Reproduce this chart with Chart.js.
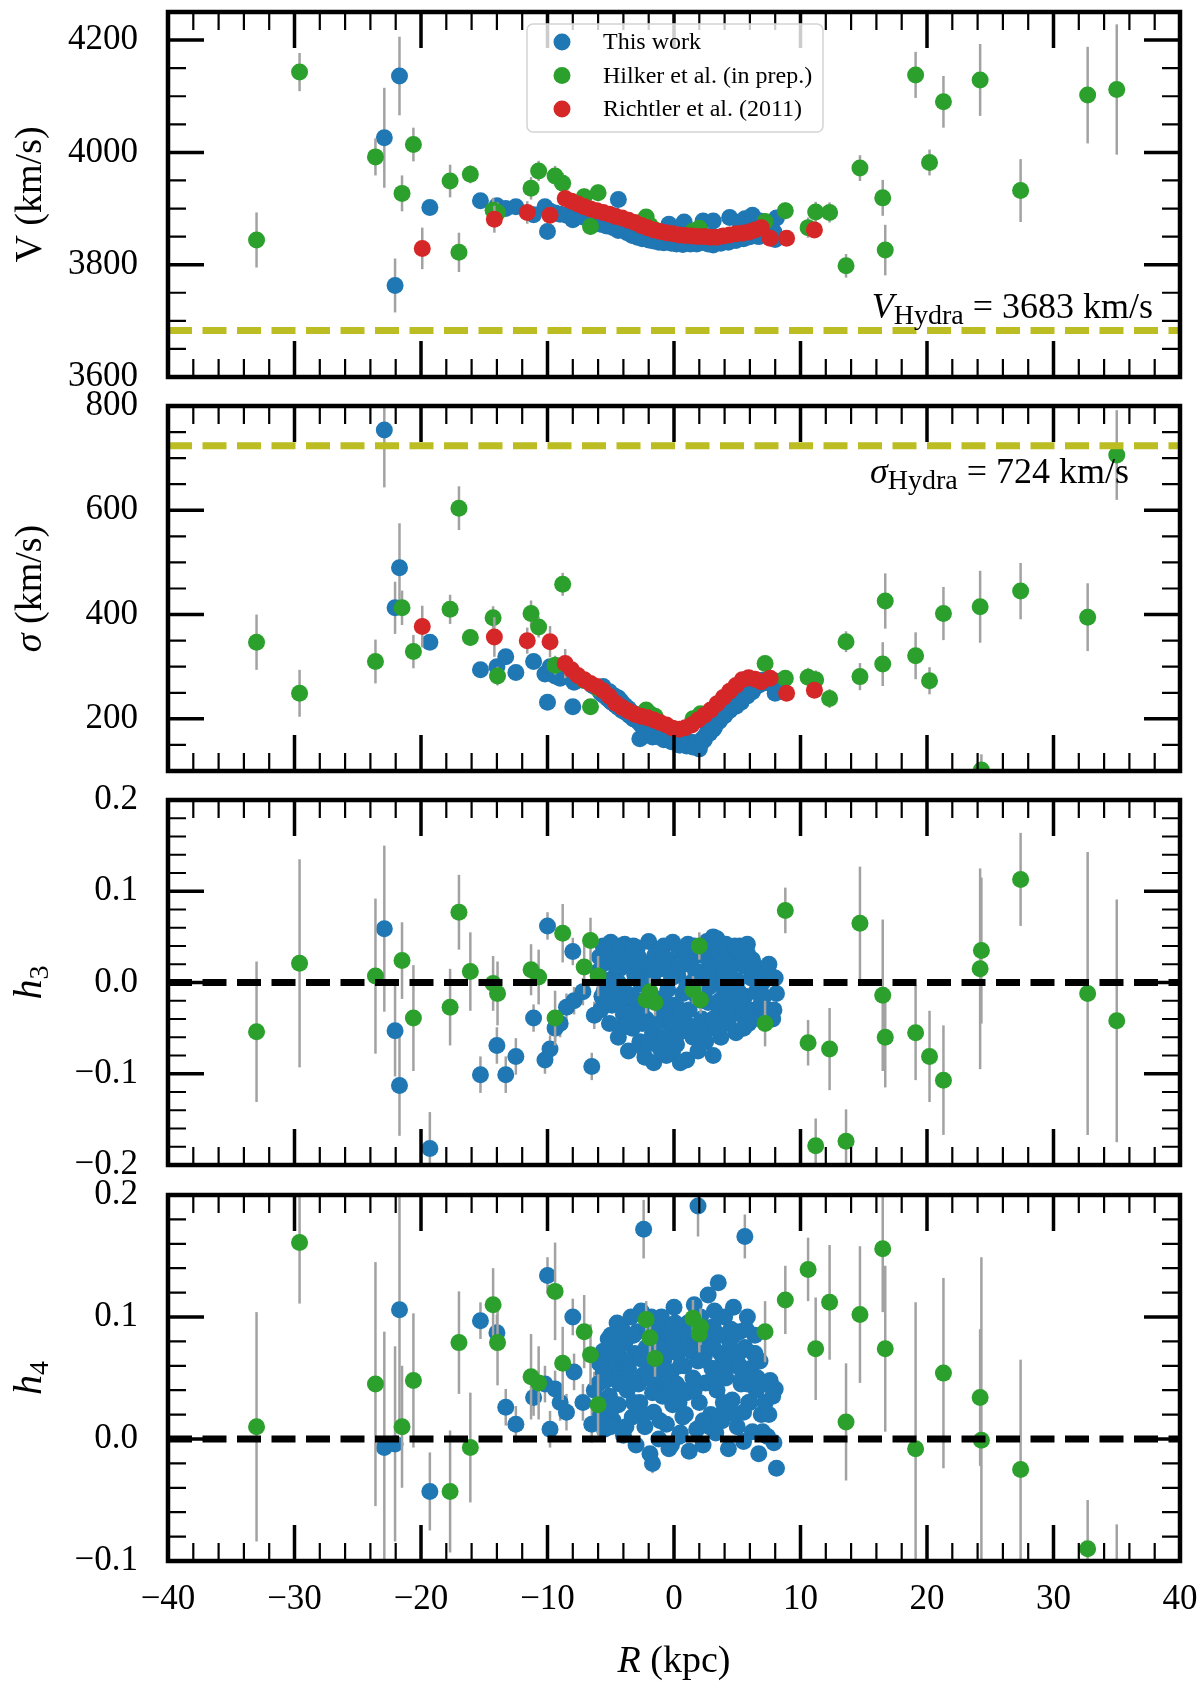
<!DOCTYPE html>
<html>
<head>
<meta charset="utf-8">
<title>Hydra I: V, sigma, h3, h4 versus R</title>
<script src="https://cdn.jsdelivr.net/npm/chart.js@4.4.1/dist/chart.umd.min.js"></script>
<style>
  html, body { margin: 0; padding: 0; background: #fff; }
  #figure { position: relative; width: 1200px; height: 1693px; overflow: hidden; }
  #figure canvas { position: absolute; left: 0; }
</style>
</head>
<body>
<div id="figure">
  <canvas id="panel-v" width="1200" height="395" style="top:0px;width:1200px;height:395px"></canvas>
  <canvas id="panel-sigma" width="1200" height="405" style="top:386px;width:1200px;height:405px"></canvas>
  <canvas id="panel-h3" width="1200" height="405" style="top:780px;width:1200px;height:405px"></canvas>
  <canvas id="panel-h4" width="1200" height="518" style="top:1175px;width:1200px;height:518px"></canvas>
</div>
<script>
// ---- axes ----
const xMin = -40, xMax = 40;
const xTicks = [-40, -30, -20, -10, 0, 10, 20, 30, 40];
const vTicks = [3600, 3800, 4000, 4200];
const sigmaTicks = [200, 400, 600, 800];
const h3Ticks = [-0.2, -0.1, 0.0, 0.1, 0.2];
const h4Ticks = [-0.1, 0.0, 0.1, 0.2];

const vHydra = 3683;
const sigmaHydra = 724;

// ---- This work (outer bins, then two passes over the dense central bins) ----
const thisWorkR = [
  -22.9, -21.7, -22.05, -19.3, -15.3, -14.0, -13.3, -12.5, -11.1, -10.2,
  -10.0, -9.8, -9.4, -9.0, -8.5, -8.0, -7.9, -7.2, -6.5, -6.3,
  -4.4, -2.4, 1.9, 5.6, -1.7,
  -6.0, -5.8, -5.6, -5.5, -5.3, -5.1, -5.0, -4.8, -4.7, -4.5,
  -4.4, -4.2, -4.0, -3.9, -3.7, -3.6, -3.4, -3.3, -3.1, -3.0,
  -2.9, -2.7, -2.6, -2.5, -2.3, -2.2, -2.0, -1.9, -1.7, -1.6,
  -1.5, -1.3, -1.2, -1.0, -0.9, -0.8, -0.6, -0.5, -0.4, -0.2,
  -0.1, 0.0, 0.2, 0.3, 0.4, 0.6, 0.7, 0.8, 1.0, 1.1,
  1.2, 1.4, 1.5, 1.6, 1.8, 1.9, 2.0, 2.2, 2.3, 2.5,
  2.6, 2.7, 2.9, 3.0, 3.1, 3.3, 3.4, 3.5, 3.7, 3.8,
  4.0, 4.1, 4.3, 4.4, 4.6, 4.7, 4.9, 5.0, 5.2, 5.3,
  5.5, 5.6, 5.8, 5.9, 6.1, 6.2, 6.4, 6.5, 6.7, 6.8,
  7.0, 7.2, 7.4, 7.6, 7.9, 8.0, 8.1, 3.1,
  -5.9, -5.7, -5.4, -5.2, -4.9, -4.6, -4.3, -4.1, -3.8, -3.5,
  -3.2, -2.8, -2.4, -2.1, -1.8, -1.4, -1.1, -0.7, -0.3, 0.1,
  0.5, 0.9, 1.3, 1.7, 2.1, 2.4, 2.8, 3.2, 3.6, 3.9,
  4.2, 4.5, 4.8, 5.1, 5.4, 5.7, 6.0, 6.3, 6.6, 6.9,
  -5.6, -5.0, -4.4, -3.8, -3.2, -2.6, -2.0, -1.4, -0.8, -0.2,
  0.4, 1.0, 1.6, 2.2, 2.8, 3.4, 4.0, 4.6, 5.2, 5.8,
  -4.9, -4.1, -3.3, -2.5, -1.7, -0.9, -0.1, 0.7, 1.5, 2.3,
  3.1, 3.9, 4.7, 5.5, 6.4, 7.1, 7.5, 7.8, -1.0, 0.5
];
const thisWorkV = [
  4026, 4136, 3763, 3902, 3914, 3905, 3900, 3903, 3889, 3903,
  3859, 3895, 3892, 3890, 3888, 3880, 3884, 3885, 3880, 3878,
  3916, 3862, 3850, 3870, 3843,
  3884, 3872, 3890, 3878, 3869, 3881, 3875, 3866, 3887, 3872,
  3861, 3879, 3868, 3874, 3857, 3870, 3862, 3852, 3866, 3858,
  3849, 3863, 3855, 3846, 3860, 3851, 3844, 3857, 3848, 3842,
  3855, 3846, 3840, 3853, 3845, 3839, 3851, 3843, 3872, 3838,
  3850, 3842, 3837, 3849, 3841, 3846, 3836, 3876, 3840, 3845,
  3838, 3847, 3839, 3844, 3837, 3846, 3840, 3845, 3878, 3848,
  3841, 3837, 3846, 3839, 3835, 3848, 3840, 3844, 3838, 3850,
  3842, 3846, 3840, 3884, 3844, 3849, 3843, 3855, 3876, 3852,
  3846, 3882, 3849, 3855, 3851, 3888, 3853, 3858, 3850, 3878,
  3855, 3860, 3852, 3866, 3858, 3845, 3883, 3878,
  3876, 3886, 3870, 3880, 3868, 3877, 3865, 3872, 3860, 3868,
  3855, 3862, 3850, 3856, 3845, 3852, 3842, 3848, 3840, 3846,
  3838, 3844, 3837, 3843, 3839, 3845, 3838, 3846, 3840, 3848,
  3842, 3850, 3845, 3852, 3848, 3856, 3850, 3858, 3853, 3862,
  3880, 3872, 3866, 3861, 3854, 3849, 3845, 3842, 3840, 3839,
  3845, 3842, 3848, 3844, 3850, 3843, 3848, 3851, 3855, 3860,
  3874, 3868, 3859, 3852, 3850, 3843, 3847, 3841, 3843, 3847,
  3843, 3850, 3847, 3852, 3856, 3857, 3856, 3860, 3848, 3845
];
const thisWorkVErr = [
  89, 70, 48, 12, 10, 10, 10, 10, 10, 10,
  10, 8, 8, 8, 8, 8, 8, 8, 8, 8,
  8, 0, 0, 0, 0
];
const thisWorkSigma = [
  754, 490, 413, 347, 294, 300, 319, 289, 310, 286,
  232, 300, 282, 278, 282, 223, 270, 274, 265, 262,
  240, 205, 150, 248, 180,
  258, 250, 262, 245, 240, 252, 236, 230, 244, 228,
  222, 234, 218, 226, 214, 220, 208, 212, 204, 198,
  206, 162, 190, 200, 168, 194, 182, 188, 165, 184,
  175, 180, 172, 176, 168, 174, 166, 170, 162, 167,
  160, 164, 158, 162, 156, 160, 154, 158, 152, 156,
  150, 155, 148, 153, 145, 150, 142, 156, 162, 168,
  172, 176, 182, 186, 180, 192, 196, 200, 204, 210,
  206, 214, 220, 216, 226, 230, 224, 236, 240, 232,
  246, 250, 244, 256, 260, 252, 266, 262, 270, 266,
  274, 270, 276, 268, 262, 249, 272, 194,
  255, 248, 244, 238, 232, 226, 222, 216, 212, 206,
  200, 194, 186, 182, 176, 172, 168, 162, 158, 155,
  152, 150, 148, 148, 152, 160, 172, 184, 196, 206,
  214, 222, 230, 238, 244, 250, 256, 262, 268, 272,
  246, 234, 224, 212, 200, 188, 176, 166, 160, 156,
  150, 148, 150, 160, 175, 192, 208, 224, 240, 252,
  236, 220, 204, 192, 178, 168, 158, 152, 146, 158,
  188, 206, 226, 246, 262, 270, 272, 266, 168, 150
];
const thisWorkSigmaErr = [
  110, 85, 50, 12, 10, 10, 10, 10, 10, 10,
  10, 8, 8, 8, 8, 8, 8, 8, 8, 8,
  8, 0, 0, 0, 0
];
const thisWorkH3 = [
  0.059, -0.113, -0.053, -0.182, -0.101, -0.069, -0.101, -0.081, -0.039, -0.085,
  0.062, -0.073, -0.050, -0.045, -0.027, 0.034, -0.020, -0.010, -0.092, -0.036,
  0.030, -0.020, 0.010, 0.020, -0.060,
  0.012, -0.030, 0.040, -0.008, 0.022, -0.045, 0.044, 0.005, -0.020, 0.030,
  -0.060, 0.016, -0.035, 0.042, -0.012, -0.075, 0.025, -0.050, 0.008, -0.028,
  0.038, -0.065, -0.002, 0.020, -0.082, -0.040, 0.045, 0.010, -0.055, -0.088,
  0.030, -0.018, -0.070, 0.015, -0.032, 0.040, -0.080, -0.008, 0.025, -0.050,
  0.044, -0.025, -0.068, 0.008, 0.035, -0.045, -0.012, 0.020, -0.085, 0.042,
  -0.030, 0.000, -0.060, 0.028, -0.015, -0.075, 0.038, -0.040, 0.012, -0.065,
  0.045, -0.022, -0.050, 0.020, -0.080, 0.000, 0.048, -0.035, -0.060, 0.030,
  -0.010, 0.042, -0.045, 0.010, -0.025, 0.035, -0.055, 0.002, 0.040, -0.035,
  0.018, -0.015, 0.032, -0.045, 0.005, 0.025, -0.030, -0.010, 0.015, -0.040,
  0.000, -0.028, -0.035, 0.008, -0.030, 0.005, -0.012, 0.050,
  0.028, -0.015, 0.002, 0.036, -0.025, 0.018, 0.040, -0.048, 0.022, 0.034,
  -0.040, 0.028, -0.072, 0.000, 0.022, -0.045, 0.035, -0.060, -0.040, 0.015,
  -0.030, 0.028, -0.048, 0.012, -0.055, 0.030, -0.005, 0.038, -0.020, 0.040,
  -0.035, 0.020, 0.040, -0.010, 0.030, -0.028, -0.040, 0.020, 0.000, -0.022,
  -0.018, 0.025, 0.000, -0.048, 0.040, -0.030, -0.065, 0.030, -0.018, 0.005,
  -0.055, -0.005, 0.040, -0.020, 0.010, -0.050, 0.025, 0.000, -0.020, 0.042,
  -0.010, -0.020, -0.015, -0.045, 0.005, 0.022, -0.075, -0.035, 0.000, 0.030,
  -0.040, 0.010, -0.010, -0.050, 0.010, -0.015, 0.020, -0.040, -0.075, -0.088
];
const thisWorkH3Err = [
  0.091, 0.055, 0.050, 0.040, 0.020, 0.020, 0.020, 0.020, 0.015, 0.015,
  0.015, 0.015, 0.015, 0.015, 0.015, 0.015, 0.015, 0.015, 0.015, 0.015,
  0.015, 0, 0, 0, 0
];
const thisWorkH4 = [
  -0.007, 0.106, -0.004, -0.043, 0.097, 0.087, 0.026, 0.012, 0.034, 0.045,
  0.134, 0.008, 0.041, 0.030, 0.022, 0.100, 0.055, 0.030, 0.012, 0.040,
  0.060, 0.172, 0.191, 0.166, -0.020,
  0.045, 0.020, 0.072, 0.008, 0.060, 0.035, 0.085, 0.015, 0.050, 0.095,
  0.028, 0.066, 0.003, 0.078, 0.040, 0.058, 0.100, 0.018, 0.070, -0.005,
  0.088, 0.030, 0.105, 0.052, 0.010, 0.075, 0.095, -0.012, 0.060, 0.022,
  0.042, 0.080, 0.000, 0.100, 0.035, 0.065, 0.012, 0.090, -0.008, 0.055,
  0.028, 0.108, 0.045, 0.070, 0.002, 0.085, 0.018, 0.060, 0.038, 0.095,
  -0.010, 0.072, 0.050, 0.110, 0.008, 0.064, 0.030, 0.088, -0.005, 0.046,
  0.078, 0.118, 0.020, 0.058, 0.092, 0.005, 0.040, 0.128, 0.070, 0.015,
  0.100, 0.050, -0.008, 0.080, 0.032, 0.108, 0.060, 0.010, 0.088, 0.045,
  -0.002, 0.075, 0.100, 0.030, 0.058, 0.006, 0.085, 0.040, -0.012, 0.064,
  0.006, 0.030, 0.002, 0.048, -0.003, 0.041, -0.024, 0.075,
  0.062, 0.030, 0.048, 0.082, 0.025, 0.070, 0.045, 0.090, 0.010, 0.064,
  0.085, 0.045, 0.020, 0.070, 0.100, 0.050, 0.015, 0.078, 0.040, 0.095,
  0.060, 0.020, 0.080, 0.045, 0.100, 0.068, 0.010, 0.105, 0.085, 0.030,
  0.060, 0.090, 0.020, 0.070, 0.050, 0.090, 0.030, 0.070, 0.050, 0.020,
  0.055, 0.010, 0.080, 0.050, 0.030, 0.068, 0.050, 0.092, 0.075, -0.005,
  0.030, 0.080, 0.040, 0.065, 0.090, 0.055, 0.025, 0.070, 0.060, 0.045,
  0.070, 0.045, 0.085, 0.065, 0.038, 0.050, 0.080, 0.040, 0.088, 0.015,
  0.050, 0.065, 0.085, 0.022, 0.070, 0.045, 0.020, 0.035, 0.060, 0.005
];
const thisWorkH4Err = [
  0.095, 0.095, 0.080, 0.032, 0.015, 0.015, 0.015, 0.015, 0.015, 0.015,
  0.015, 0.015, 0.015, 0.015, 0.015, 0.015, 0.015, 0.015, 0.015, 0.015,
  0.015, 0.024, 0.025, 0.018, 0.008
];

// ---- Hilker et al. (in prep.) ----
const hilkerR = [
  -33.0, -29.6, -23.6, -21.5, -20.6, -17.7, -17.0, -16.1, -14.3, -13.95,
  -11.3, -10.7, -9.4, -8.8, -7.1, -6.6, -6.0, -2.2, -1.9, -1.5,
  1.5, 2.0, 2.1, 7.2, 8.8, 10.6, 11.2, 12.3, 13.6, 14.7,
  16.5, 16.7, 19.1, 20.2, 21.3, 24.2, 24.3, 27.4, 32.7, 35.0
];
const hilkerV = [
  3844, 4143, 3992, 3927, 4014, 3949, 3822, 3961, 3897, 3893,
  3936, 3967, 3958, 3945, 3921, 3868, 3928, 3885, 3870, 3862,
  3860, 3865, 3858, 3877, 3896, 3866, 3894, 3893, 3798, 3972,
  3919, 3826, 4138, 3982, 4090, 4129, null, 3932, 4102, 4112
];
const hilkerVErr = [
  49, 34, 33, 32, 30, 29, 35, 16, 22, 18,
  20, 18, 18, 18, 15, 15, 15, 10, 10, 10,
  10, 10, 10, 15, 15, 18, 18, 18, 21, 23,
  32, 45, 41, 23, 46, 64, 0, 56, 86, 116
];
const hilkerSigma = [
  347, 249, 310, 413, 329, 410, 604, 356, 394, 282,
  402, 376, 303, 458, 274, 223, 258, 217, 210, 205,
  200, 205, 210, 306, 278, 280, 275, 239, 348, 281,
  305, 426, 321, 273, 402, 415, 102, 445, 395, 706
];
const hilkerSigmaErr = [
  53, 45, 42, 33, 32, 28, 42, 16, 22, 18,
  25, 20, 18, 22, 15, 12, 12, 10, 10, 10,
  10, 10, 10, 15, 15, 18, 18, 18, 20, 26,
  42, 53, 45, 26, 51, 69, 30, 54, 65, 86
];
const hilkerH3 = [
  -0.054, 0.021, 0.007, 0.024, -0.039, -0.027, 0.077, 0.012, -0.001, -0.012,
  0.014, 0.006, -0.039, 0.054, 0.017, 0.046, 0.007, -0.019, -0.010, -0.022,
  -0.008, 0.040, -0.019, -0.045, 0.079, -0.066, -0.179, -0.073, -0.174, 0.065,
  -0.014, -0.060, -0.055, -0.081, -0.107, 0.015, 0.035, 0.113, -0.012, -0.042
];
const hilkerH3Err = [
  0.077, 0.114, 0.085, 0.042, 0.058, 0.042, 0.041, 0.043, 0.030, 0.035,
  0.028, 0.030, 0.030, 0.032, 0.030, 0.025, 0.022, 0.015, 0.015, 0.015,
  0.015, 0.015, 0.015, 0.025, 0.025, 0.025, 0.030, 0.045, 0.035, 0.062,
  0.083, 0.055, 0.052, 0.050, 0.060, 0.110, 0.080, 0.051, 0.155, 0.133
];
const hilkerH4 = [
  0.010, 0.161, 0.045, 0.010, 0.048, -0.043, 0.079, -0.007, 0.110, 0.079,
  0.051, 0.046, 0.121, 0.062, 0.088, 0.069, 0.028, 0.098, 0.083, 0.066,
  0.099, 0.086, 0.092, 0.088, 0.114, 0.139, 0.074, 0.112, 0.014, 0.102,
  0.156, 0.074, -0.008, null, 0.054, 0.034, -0.001, -0.025, -0.090, -0.130
];
const hilkerH4Err = [
  0.094, 0.050, 0.100, 0.050, 0.055, 0.050, 0.042, 0.045, 0.030, 0.035,
  0.035, 0.030, 0.040, 0.030, 0.030, 0.025, 0.025, 0.015, 0.015, 0.015,
  0.015, 0.015, 0.015, 0.025, 0.028, 0.026, 0.042, 0.047, 0.048, 0.056,
  0.052, 0.068, 0.120, 0, 0.078, 0.056, 0.150, 0.090, 0.040, 0.060
];

// ---- Richtler et al. (2011) ----
const richtlerR = [
  -19.9, -14.2, -11.6, -9.8, -8.6, -8.1, -7.6, -7.1, -6.6, -6.1,
  -5.6, -5.1, -4.6, -4.1, -3.6, -3.1, -2.6, -2.1, -1.6, -1.1,
  -0.6, -0.1, 0.4, 0.9, 1.4, 1.9, 2.4, 2.9, 3.4, 3.9,
  4.4, 4.9, 5.4, 5.9, 6.4, 6.9, 7.6, 8.9, 11.1
];
const richtlerV = [
  3829, 3881, 3893, 3888, 3918, 3913, 3908, 3903, 3899, 3896,
  3893, 3890, 3886, 3883, 3879, 3875, 3870, 3866, 3862, 3859,
  3857, 3855, 3853, 3852, 3851, 3850, 3850, 3849, 3849, 3851,
  3853, 3855, 3856, 3858, 3862, 3866, 3847, 3847, 3862
];
const richtlerVErr = [
  37, 24, 20, 15, 0, 0, 0, 0, 0, 0,
  0, 0, 0, 0, 0, 0, 0, 0, 0, 0,
  0, 0, 0, 0, 0, 0, 0, 0, 0, 0,
  0, 0, 0, 0, 0, 0, 0, 10, 12
];
const richtlerSigma = [
  377, 357, 350, 348, 306, 294, 283, 275, 268, 262,
  254, 243, 230, 222, 215, 209, 205, 202, 198, 193,
  188, 182, 180, 183, 188, 198, 207, 217, 229, 241,
  253, 264, 275, 279, 276, 271, 278, 249, 255
];
const richtlerSigmaErr = [
  40, 38, 25, 30, 28, 0, 0, 0, 0, 0,
  0, 0, 0, 0, 0, 0, 0, 0, 0, 0,
  0, 0, 0, 0, 0, 0, 0, 0, 0, 0,
  0, 0, 0, 0, 0, 0, 0, 15, 15
];

// ---- styling ----
const SERIF = '"Liberation Serif", "Times New Roman", serif';
const BLUE = '#1f77b4';
const GREEN = '#2ca02c';
const RED = '#d62728';
const OLIVE = '#bcbd22';

function font(size, italic) {
  return (italic ? 'italic ' : '') + size + 'px ' + SERIF;
}

function signed(text) {
  return String(text).replace('-', '\u2212');
}

// draws a run of text pieces (different fonts / subscripts) on one baseline
function drawRich(ctx, parts, x, y, align) {

  let width = 0;
  parts.forEach(p => { ctx.font = p.font; width += ctx.measureText(p.t).width; });
  let cx = align === 'right' ? x - width : align === 'center' ? x - width / 2 : x;
  parts.forEach(p => {
    ctx.font = p.font;
    ctx.fillText(p.t, cx, y + (p.dy || 0));
    cx += ctx.measureText(p.t).width;
  });
}

function series(label, color, order, rs, ys, errs) {

  return {
    label,
    order,
    data: rs.map((r, i) => ({ x: r, y: ys[i] })),
    errors: errs,
    backgroundColor: color,
    borderColor: color,
    pointRadius: 8.5,
    pointHoverRadius: 8.5,
    pointBorderWidth: 0,
    clip: 0,
  };
}

function refLine(value, color) {

  return {
    type: 'line',
    label: 'reference',
    order: 0,
    data: [ { x: xMin, y: value }, { x: xMax, y: value } ],
    borderColor: color,
    borderWidth: 7,
    borderDash: [ 24, 10.5 ],
    borderCapStyle: 'butt',
    pointRadius: 0,
    fill: false,
    clip: 0,
  };
}

// grey vertical error bars, drawn just before each dataset's markers
const errorBars = {
  id: 'errorBars',
  beforeDatasetDraw(chart, args) {

    const ds = chart.data.datasets[args.index];
    if (!ds.errors) return;

    const { ctx, chartArea: a, scales: { x, y } } = chart;
    ctx.save();
    ctx.beginPath();
    ctx.rect(a.left, a.top, a.width, a.height);
    ctx.clip();
    ctx.strokeStyle = '#a2a2a2';
    ctx.lineWidth = 2.5;
    ds.data.forEach((p, i) => {
      const e = ds.errors[i];
      if (p.y == null || !e) return;
      const px = x.getPixelForValue(p.x);
      ctx.beginPath();
      ctx.moveTo(px, y.getPixelForValue(p.y - e));
      ctx.lineTo(px, y.getPixelForValue(p.y + e));
      ctx.stroke();
    });
    ctx.restore();
  },
};

function tickMarks(ctx, scale, a, minorStep, horizontal) {

  const major = scale.ticks.map(t => t.value);
  const marks = [];
  const n0 = Math.ceil(scale.min / minorStep - 1e-6);
  const n1 = Math.floor(scale.max / minorStep + 1e-6);
  for (let n = n0; n <= n1; n++) {
    const v = n * minorStep;
    if (!major.some(m => Math.abs(m - v) < minorStep / 100)) marks.push([ v, 18, 2.2 ]);
  }
  major.forEach(v => marks.push([ v, 36, 3.5 ]));

  marks.forEach(([ v, len, w ]) => {
    const p = scale.getPixelForValue(v);
    ctx.lineWidth = w;
    ctx.beginPath();
    if (horizontal) {
      ctx.moveTo(p, a.bottom); ctx.lineTo(p, a.bottom - len);
      ctx.moveTo(p, a.top); ctx.lineTo(p, a.top + len);
    } else {
      ctx.moveTo(a.left, p); ctx.lineTo(a.left + len, p);
      ctx.moveTo(a.right, p); ctx.lineTo(a.right - len, p);
    }
    ctx.stroke();
  });
}

function roundedRect(ctx, x, y, w, h, r) {

  ctx.beginPath();
  ctx.moveTo(x + r, y);
  ctx.lineTo(x + w - r, y);
  ctx.arcTo(x + w, y, x + w, y + r, r);
  ctx.lineTo(x + w, y + h - r);
  ctx.arcTo(x + w, y + h, x + w - r, y + h, r);
  ctx.lineTo(x + r, y + h);
  ctx.arcTo(x, y + h, x, y + h - r, r);
  ctx.lineTo(x, y + r);
  ctx.arcTo(x, y, x + r, y, r);
  ctx.closePath();
}

// frame, inward ticks, axis titles and any panel extras
function decor(cfg) {

  return {
    id: 'decor',
    afterDraw(chart) {

      const { ctx, chartArea: a, scales: { x, y } } = chart;
      ctx.save();
      ctx.strokeStyle = '#000';
      ctx.lineCap = 'butt';
      tickMarks(ctx, x, a, 2, true);
      tickMarks(ctx, y, a, cfg.minor, false);
      ctx.lineWidth = 4.5;
      ctx.strokeRect(a.left, a.top, a.width, a.height);
      ctx.restore();

      ctx.save();
      ctx.fillStyle = '#000';
      ctx.textAlign = 'left';
      ctx.textBaseline = 'alphabetic';
      ctx.translate(41, (a.top + a.bottom) / 2);
      ctx.rotate(-Math.PI / 2);
      drawRich(ctx, cfg.yTitle, 0, 0, 'center');
      ctx.restore();

      if (cfg.extra) {
        ctx.save();
        cfg.extra(chart);
        ctx.restore();
      }
    },
  };
}

function drawLegend(chart) {

  const { ctx, chartArea: a } = chart;
  const rows = chart.data.datasets.filter(d => d.type !== 'line');
  const left = a.left + 359, top = a.top + 12;
  roundedRect(ctx, left, top, 296, 108, 6);
  ctx.fillStyle = 'rgba(255,255,255,0.8)';
  ctx.fill();
  ctx.strokeStyle = '#d4d4d4';
  ctx.lineWidth = 1.5;
  ctx.stroke();
  rows.forEach((ds, i) => {
    const cy = top + 18 + i * 33.5;
    ctx.fillStyle = ds.backgroundColor;
    ctx.beginPath();
    ctx.arc(left + 35, cy, 8.5, 0, 2 * Math.PI);
    ctx.fill();
    ctx.fillStyle = '#000';
    ctx.font = font(24);
    ctx.textBaseline = 'middle';
    ctx.fillText(ds.label, left + 76, cy + 1);
  });
}

function makeChart(id, cfg) {

  return new Chart(document.getElementById(id), {
    type: 'scatter',
    data: { datasets: cfg.datasets },
    options: {
      responsive: false,
      animation: false,
      devicePixelRatio: 1,
      events: [],
      layout: { padding: { top: cfg.padTop, right: 20, bottom: cfg.padBottom, left: 0 } },
      plugins: { legend: { display: false }, tooltip: { enabled: false } },
      scales: {
        x: {
          type: 'linear',
          min: xMin,
          max: xMax,
          afterBuildTicks: s => { s.ticks = xTicks.map(value => ({ value })); },
          afterFit: s => {
            s.height = cfg.xHeight;
            s.paddingLeft = 0;
            s.paddingRight = 0;
          },
          grid: { display: false, drawTicks: false },
          border: { display: false },
          ticks: {
            display: cfg.showX,
            autoSkip: false,
            maxRotation: 0,
            padding: 18,
            color: '#000',
            font: { family: SERIF, size: 35 },
            callback: v => signed(v),
          },
        },
        y: {
          type: 'linear',
          min: cfg.min,
          max: cfg.max,
          afterBuildTicks: s => { s.ticks = cfg.ticks.map(value => ({ value })); },
          afterFit: s => {
            s.width = 168;
            s.paddingTop = 0;
            s.paddingBottom = 0;
          },
          grid: { display: false, drawTicks: false },
          border: { display: false },
          ticks: {
            autoSkip: false,
            padding: 30,
            color: '#000',
            font: { family: SERIF, size: 35 },
            callback: v => cfg.fmt(v),
          },
        },
      },
    },
    plugins: [ errorBars, decor(cfg) ],
  });
}

function build() {

  const hFmt = v => signed(v.toFixed(1));

  makeChart('panel-v', {
    padTop: 12, padBottom: 18, xHeight: 0, showX: false,
    min: 3600, max: 4250, ticks: vTicks, minor: 50, fmt: v => String(v),
    yTitle: [ { t: 'V (km/s)', font: font(38) } ],
    datasets: [
      series('This work', BLUE, 3, thisWorkR, thisWorkV, thisWorkVErr),
      series('Hilker et al. (in prep.)', GREEN, 2, hilkerR, hilkerV, hilkerVErr),
      series('Richtler et al. (2011)', RED, 1, richtlerR, richtlerV, richtlerVErr),
      refLine(vHydra, OLIVE),
    ],
    extra: chart => {
      const { ctx, chartArea: a } = chart;
      drawLegend(chart);
      ctx.fillStyle = '#000';
      ctx.textBaseline = 'alphabetic';
      drawRich(ctx, [
        { t: 'V', font: font(36, true) },
        { t: 'Hydra', font: font(28), dy: 6 },
        { t: ' = ' + vHydra + ' km/s', font: font(36) },
      ], a.right - 27, a.top + 306, 'right');
    },
  });

  makeChart('panel-sigma', {
    padTop: 20, padBottom: 20, xHeight: 0, showX: false,
    min: 100, max: 800, ticks: sigmaTicks, minor: 50, fmt: v => String(v),
    yTitle: [ { t: '\u03c3', font: font(38, true) }, { t: ' (km/s)', font: font(38) } ],
    datasets: [
      series('This work', BLUE, 3, thisWorkR, thisWorkSigma, thisWorkSigmaErr),
      series('Hilker et al. (in prep.)', GREEN, 2, hilkerR, hilkerSigma, hilkerSigmaErr),
      series('Richtler et al. (2011)', RED, 1, richtlerR, richtlerSigma, richtlerSigmaErr),
      refLine(sigmaHydra, OLIVE),
    ],
    extra: chart => {
      const { ctx, chartArea: a } = chart;
      ctx.fillStyle = '#000';
      ctx.textBaseline = 'alphabetic';
      drawRich(ctx, [
        { t: '\u03c3', font: font(36, true) },
        { t: 'Hydra', font: font(28), dy: 6 },
        { t: ' = ' + sigmaHydra + ' km/s', font: font(36) },
      ], a.right - 51, a.top + 77, 'right');
    },
  });

  makeChart('panel-h3', {
    padTop: 20, padBottom: 20, xHeight: 0, showX: false,
    min: -0.2, max: 0.2, ticks: h3Ticks, minor: 0.02, fmt: hFmt,
    yTitle: [ { t: 'h', font: font(40, true) }, { t: '3', font: font(28), dy: 7 } ],
    datasets: [
      series('This work', BLUE, 3, thisWorkR, thisWorkH3, thisWorkH3Err),
      series('Hilker et al. (in prep.)', GREEN, 2, hilkerR, hilkerH3, hilkerH3Err),
      refLine(0, '#000'),
    ],
  });

  makeChart('panel-h4', {
    padTop: 20, padBottom: 0, xHeight: 132, showX: true,
    min: -0.1, max: 0.2, ticks: h4Ticks, minor: 0.02, fmt: hFmt,
    yTitle: [ { t: 'h', font: font(40, true) }, { t: '4', font: font(28), dy: 7 } ],
    datasets: [
      series('This work', BLUE, 3, thisWorkR, thisWorkH4, thisWorkH4Err),
      series('Hilker et al. (in prep.)', GREEN, 2, hilkerR, hilkerH4, hilkerH4Err),
      refLine(0, '#000'),
    ],
    extra: chart => {
      const { ctx, chartArea: a } = chart;
      ctx.fillStyle = '#000';
      ctx.textBaseline = 'alphabetic';
      drawRich(ctx, [
        { t: 'R', font: font(38, true) },
        { t: ' (kpc)', font: font(38) },
      ], (a.left + a.right) / 2, a.bottom + 111, 'center');
    },
  });
}

Promise.all([
  document.fonts.load('36px "Liberation Serif"'),
  document.fonts.load('italic 36px "Liberation Serif"'),
]).then(build, build);
</script>
</body>
</html>
